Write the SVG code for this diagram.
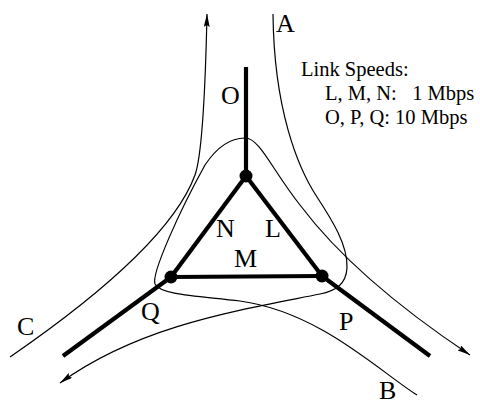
<svg xmlns="http://www.w3.org/2000/svg" width="480" height="404" viewBox="0 0 480 404">
<style>
.flow{fill:none;stroke:#000;stroke-width:1.2}
.link{stroke:#000;stroke-width:4.2;stroke-linecap:butt}
.lbl{font-family:"Liberation Serif","Times New Roman",serif;font-size:26px;fill:#000}
.leg{font-family:"Liberation Serif","Times New Roman",serif;font-size:20.5px;fill:#000}
</style>
<defs>
<marker id="ah" viewBox="0 0 13 6" refX="13" refY="3" markerWidth="13" markerHeight="6" markerUnits="userSpaceOnUse" orient="auto">
<path d="M0,0 L13,3 L0,6 L2,3 z" fill="#000"/>
</marker>
</defs>
<rect width="480" height="404" fill="#fff"/>
<g id="connectors">
<line class="link" x1="246" y1="67" x2="246" y2="176"/>
<line class="link" x1="171" y1="277" x2="63" y2="356"/>
<line class="link" x1="322" y1="276" x2="430" y2="356"/>
<line class="link" x1="246" y1="176" x2="171" y2="277"/>
<line class="link" x1="246" y1="176" x2="322" y2="276"/>
<line class="link" x1="171" y1="277" x2="322" y2="276"/>
<path id="flowA" class="flow" marker-end="url(#ah)" d="M273,14 C274,110 298,168 317,197 C332,220 348,245 347,268 C346,285 335,291 320,294 C240,310 140,325 60,383"/>
<path id="flowB" class="flow" marker-end="url(#ah)" d="M417,395 C380,372 320,312 240,301 C200,296 160,295 155,284 C151,274 180,210 205,165 C215,150 228,138 245,138 C260,138 272,170 300,205 C330,245 380,295 470,355"/>
<path id="flowC" class="flow" marker-end="url(#ah)" d="M10,357 C100,295 175,230 195,175 C203,153 206,60 207,14"/>
</g>
<g id="node-top"><circle cx="246" cy="176" r="6.5"/></g>
<g id="node-left"><circle cx="171" cy="277" r="6.5"/></g>
<g id="node-right"><circle cx="322" cy="276" r="6.5"/></g>
<g id="labels">
<text class="lbl" x="221" y="104">O</text>
<text class="lbl" x="276" y="32">A</text>
<text class="lbl" x="216" y="237">N</text>
<text class="lbl" x="265" y="237">L</text>
<text class="lbl" x="234" y="267">M</text>
<text class="lbl" x="141" y="320">Q</text>
<text class="lbl" x="339" y="330">P</text>
<text class="lbl" x="17" y="335">C</text>
<text class="lbl" x="379" y="399">B</text>
</g>
<g id="legend">
<text class="leg" x="301" y="76">Link Speeds:</text>
<text class="leg" x="325" y="100" xml:space="preserve">L, M, N:   1 Mbps</text>
<text class="leg" x="325" y="124">O, P, Q: 10 Mbps</text>
</g>
</svg>
